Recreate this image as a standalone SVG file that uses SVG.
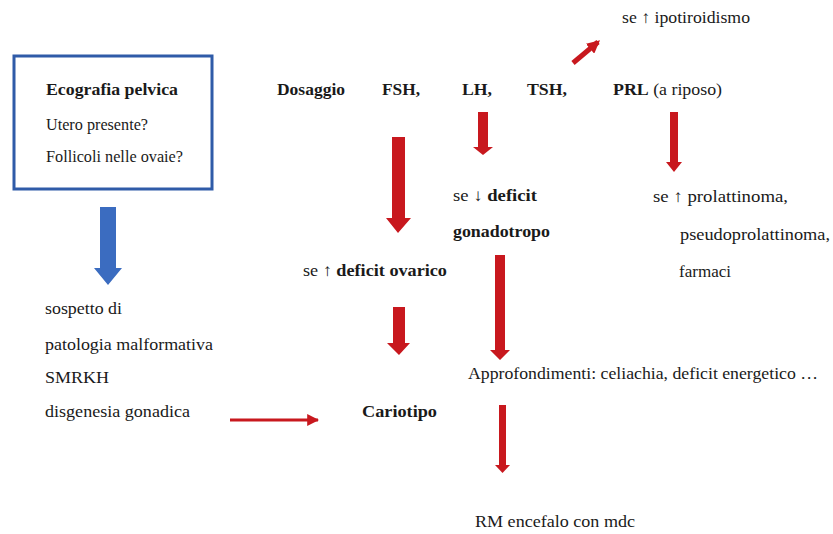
<svg xmlns="http://www.w3.org/2000/svg" width="833" height="534" viewBox="0 0 833 534" font-family="'Liberation Serif', 'Times New Roman', 'DejaVu Serif', serif">
<style>
text{font-family:'Liberation Serif','Times New Roman','DejaVu Serif',serif;font-size:17px;fill:#1a1a1a}
.b{font-weight:bold}
.red{fill:#c8181e}
.blue{fill:#3b6cc0}
</style>
<defs>
<marker id="ah" viewBox="0 0 10 10" refX="9" refY="5" markerWidth="4" markerHeight="4" orient="auto" markerUnits="strokeWidth">
<path d="M0,0 L10,5 L0,10 z" fill="#c8181e"/>
</marker>
<marker id="ah2" viewBox="0 0 10 10" refX="8" refY="5" markerWidth="2.6" markerHeight="2.6" orient="auto" markerUnits="strokeWidth">
<path d="M0,0 L10,5 L0,10 z" fill="#c8181e"/>
</marker>
</defs>
<rect width="833" height="534" fill="#fff"/>

<g id="ecografia">
<rect x="14" y="56" width="198" height="133" fill="#fff" stroke="#2f5ba8" stroke-width="3"/>
<text x="46" y="95" class="b" textLength="132" lengthAdjust="spacingAndGlyphs">Ecografia pelvica</text>
<text x="46" y="130" textLength="102" lengthAdjust="spacingAndGlyphs">Utero presente?</text>
<text x="46" y="162" textLength="137" lengthAdjust="spacingAndGlyphs">Follicoli nelle ovaie?</text>
</g>

<g id="sospetto">
<text x="45" y="314" textLength="77" lengthAdjust="spacingAndGlyphs">sospetto di</text>
<text x="45" y="350" textLength="168" lengthAdjust="spacingAndGlyphs">patologia malformativa</text>
<text x="45" y="383" textLength="64" lengthAdjust="spacingAndGlyphs">SMRKH</text>
<text x="45" y="417" textLength="145" lengthAdjust="spacingAndGlyphs">disgenesia gonadica</text>
</g>

<g id="dosaggio">
<text x="277" y="95" class="b" textLength="68" lengthAdjust="spacingAndGlyphs">Dosaggio</text>
<text x="382" y="95" class="b" textLength="38" lengthAdjust="spacingAndGlyphs">FSH,</text>
<text x="462" y="95" class="b" textLength="30" lengthAdjust="spacingAndGlyphs">LH,</text>
<text x="527" y="95" class="b" textLength="40" lengthAdjust="spacingAndGlyphs">TSH,</text>
<text x="613" y="95" textLength="109" lengthAdjust="spacingAndGlyphs"><tspan class="b">PRL</tspan> (a riposo)</text>
</g>

<g id="ipotiroidismo">
<text x="622" y="23" textLength="128" lengthAdjust="spacingAndGlyphs">se ↑ ipotiroidismo</text>
</g>

<g id="deficit-gonadotropo">
<text x="453" y="201" textLength="84" lengthAdjust="spacingAndGlyphs">se ↓ <tspan class="b">deficit</tspan></text>
<text x="453" y="237" class="b" textLength="97" lengthAdjust="spacingAndGlyphs">gonadotropo</text>
</g>

<g id="deficit-ovarico">
<text x="303" y="276" textLength="144" lengthAdjust="spacingAndGlyphs">se ↑ <tspan class="b">deficit ovarico</tspan></text>
</g>

<g id="prolattinoma">
<text x="653" y="202" textLength="135" lengthAdjust="spacingAndGlyphs">se ↑ prolattinoma,</text>
<text x="680" y="240" textLength="150" lengthAdjust="spacingAndGlyphs">pseudoprolattinoma,</text>
<text x="679" y="277" textLength="52" lengthAdjust="spacingAndGlyphs">farmaci</text>
</g>

<g id="cariotipo">
<text x="362" y="417" class="b" textLength="75" lengthAdjust="spacingAndGlyphs">Cariotipo</text>
</g>

<g id="approfondimenti">
<text x="468" y="379" textLength="350" lengthAdjust="spacingAndGlyphs">Approfondimenti: celiachia, deficit energetico …</text>
</g>

<g id="rm">
<text x="475" y="527" textLength="160" lengthAdjust="spacingAndGlyphs">RM encefalo con mdc</text>
</g>

<g id="connectors">
<polygon class="blue" points="100,207 116,207 116,268 122,268 108,285 94,268 100,268"/>
<polygon class="red" points="392,137 405,137 405,218 411,218 398,233 386,218 392,218"/>
<polygon class="red" points="478,112 488,112 488,147 493,147 483,155 473,147 478,147"/>
<polygon class="red" points="495,255 505,255 505,350 510,350 500,360 490,350 495,350"/>
<polygon class="red" points="393,307 405,307 405,343 410,343 399,355 387,343 393,343"/>
<polygon class="red" points="499,405 506,405 506,465 510,465 502.5,473 495,465 499,465"/>
<polygon class="red" points="670,112 678,112 678,162 682,162 674,172 666,162 670,162"/>
<line x1="573" y1="63" x2="598" y2="42" stroke="#c8181e" stroke-width="5" marker-end="url(#ah2)"/>
<line x1="230" y1="420" x2="318" y2="420" stroke="#c8181e" stroke-width="3" marker-end="url(#ah)"/>
</g>
</svg>
